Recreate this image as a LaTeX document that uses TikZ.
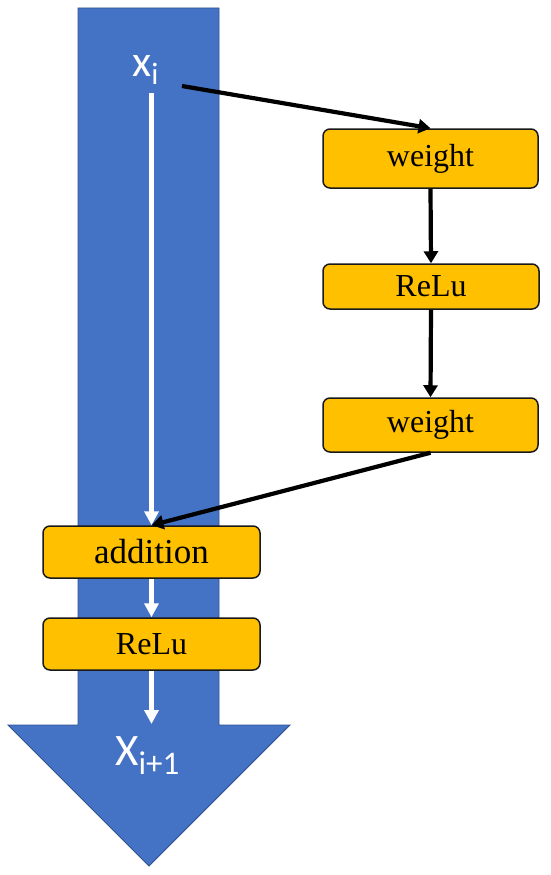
\documentclass[tikz,border=0pt]{standalone}
\usepackage{fontspec}
\setmainfont{Liberation Serif}
\newfontfamily\labfont{Carlito}
\usetikzlibrary{arrows.meta}
\definecolor{flowblue}{HTML}{4472C4}
\definecolor{flowedge}{HTML}{2F528F}
\definecolor{boxgold}{HTML}{FFC000}
\tikzset{
  opbox/.style={draw=black!90, line width=1.5pt, fill=boxgold, rounded corners=7pt,
    minimum width=#1, inner sep=0pt, font=\fontsize{32}{32}\selectfont},
  blackarr/.style={draw=black, line width=4.2pt, -{Triangle[width=14pt,length=12pt]}},
  whitearr/.style={draw=white, line width=4.2pt, -{Triangle[width=14pt,length=14pt]}},
  lab/.style={text=white, inner sep=0pt, anchor=base west}
}
\begin{document}
\begin{tikzpicture}[x=1pt, y=-1pt]
\useasboundingbox (0,0) rectangle (550,875);
% big flow arrow
\path[fill=flowblue, draw=flowedge, line width=0.8pt]
  (78,8) -- (219,8) -- (219,725) -- (290,725) -- (149,866) -- (8,725) -- (78,725) -- cycle;
% boxes
\node[opbox=215pt, minimum height=59pt] (w1) at (430.5,158.5) {weight};
\node[opbox=216pt, minimum height=45pt] (r1) at (431,286.5) {ReLu};
\node[opbox=215pt, minimum height=54pt] (w2) at (430.5,425) {weight};
\node[opbox=217pt, minimum height=52pt, font=\fontsize{35}{35}\selectfont] (add) at (151.5,552) {addition};
\node[opbox=217pt, minimum height=52pt] (r2) at (151.5,644) {ReLu};
% labels
\node[lab] (xi) at (132,76) {\labfont\fontsize{44}{44}\selectfont x\raisebox{-9pt}{\fontsize{31}{31}\selectfont i}};
\node[lab] (xo) at (115,765) {\labfont\fontsize{45}{45}\selectfont X\raisebox{-9pt}{\fontsize{33}{33}\selectfont i+1}};
% coordinates
\coordinate (xs) at (182,86);
\coordinate (ws) at (151.5,93);
\coordinate (we) at (151.5,724);
% connectors
\draw[blackarr] (xs) -- (w1.north);
\draw[blackarr] (w1.south) -- (r1.north);
\draw[blackarr] (r1.south) -- (w2.north);
\draw[blackarr] (w2.south) -- (add.north);
\draw[whitearr] (ws) -- (add.north);
\draw[whitearr] (add.south) -- (r2.north);
\draw[whitearr] (r2.south) -- (we);
\end{tikzpicture}
\end{document}
